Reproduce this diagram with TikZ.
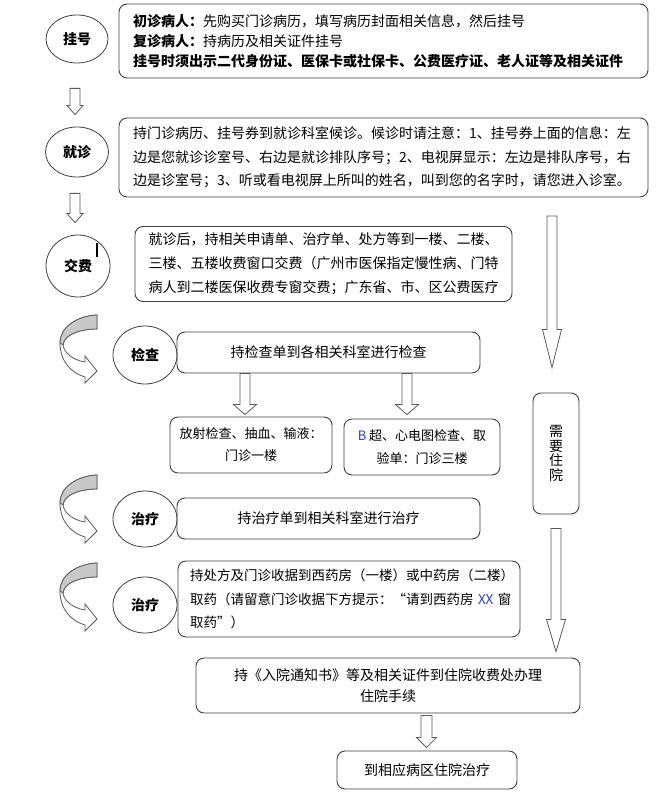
\documentclass[tikz,border=0pt]{standalone}
\usepackage{fontspec}
\setmainfont{Noto Sans CJK SC}
\usepackage{tikz}
\usetikzlibrary{calc}
\usetikzlibrary{positioning,shapes.geometric}

\definecolor{boxgray}{RGB}{64,64,64}
\definecolor{arrowgray}{RGB}{90,90,90}
\definecolor{bandgray}{RGB}{200,200,200}
\definecolor{numblue}{RGB}{40,70,180}

\tikzset{
  stepbox/.style={draw=boxgray, rounded corners=8pt, line width=0.9pt, inner ysep=0pt,
    font=\fontsize{14}{20}\selectfont},
  oval/.style={ellipse, draw=boxgray, line width=0.8pt, inner sep=0pt,
    font=\bfseries\fontsize{14}{16}\selectfont},
  hollow/.style={draw=arrowgray, fill=white, line width=0.8pt, line join=miter},
  uturn/.pic={
    \draw[hollow] (0,0) .. controls (-20,1) and (-37,12) .. (-37,28)
      .. controls (-37,46) and (-26,58) .. (-12,62) -- (-12,68) -- (0,56) -- (-12,41) -- (-12,47)
      .. controls (-24,45) and (-33,38) .. (-34,30)
      .. controls (-33,20) and (-18,14) .. (0,14) -- cycle;
    \draw[hollow, fill=bandgray] (0,0) .. controls (-20,1) and (-37,12) .. (-37,28) -- (-34,30)
      .. controls (-33,20) and (-18,14) .. (0,14) -- cycle;
  }
}

\newcommand{\hollowdown}[5]{%
  \draw[hollow] let \p1=(#1), \p2=(#2) in
    (\x1-#3,\y1) -- (\x1-#3,\y2+#5) -- (\x1-#4,\y2+#5) -- (\x1,\y2)
    -- (\x1+#4,\y2+#5) -- (\x1+#3,\y2+#5) -- (\x1+#3,\y1) -- cycle;}

\begin{document}
\begin{tikzpicture}[x=1pt, y=-1pt]
  \fill[white] (0,0) rectangle (668,794);
  \useasboundingbox (0,0) rectangle (668,794);

  \node[oval, minimum width=62pt, minimum height=48pt] (gua) at (77,39) {挂号};
  \node[oval, minimum width=63pt, minimum height=50pt] (jiu) at (77,152) {就诊};
  \node[oval, minimum width=64pt, minimum height=62pt] (jiao) at (78,266) {交费};
  \node[oval, minimum width=64pt, minimum height=58pt] (jiancha) at (145,355) {检查};
  \node[oval, minimum width=64pt, minimum height=56pt] (zhi) at (145,519) {治疗};
  \node[oval, minimum width=64pt, minimum height=56pt] (qu) at (145,605) {治疗};
  \draw[line width=1.5pt] (97,243) -- (97,257);

  \node[stepbox, inner xsep=14pt, text width=501pt, minimum height=74pt, align=left] (guabox) at (383.5,41)
    {{\bfseries 初诊病人：}先购买门诊病历，填写病历封面相关信息，然后挂号\\
     {\bfseries 复诊病人：}持病历及相关证件挂号\\
     {\bfseries 挂号时须出示二代身份证、医保卡或社保卡、公费医疗证、老人证等及相关证件}};
  \node[stepbox, inner xsep=14pt, text width=501pt, minimum height=79pt, align=left,
    font=\fontsize{14}{23.5}\selectfont] (jiubox) at (383.5,157.5)
    {持门诊病历、挂号券到就诊科室候诊。候诊时请注意：1、挂号券上面的信息：左\\
     边是您就诊诊室号、右边是就诊排队序号；2、电视屏显示：左边是排队序号，右\\
     边是诊室号；3、听或看电视屏上所叫的姓名，叫到您的名字时，请您进入诊室。};
  \node[stepbox, inner xsep=13.5pt, text width=350pt, minimum height=75pt, align=left,
    font=\fontsize{14}{24}\selectfont] (jiaobox) at (323.5,264)
    {就诊后，持相关申请单、治疗单、处方等到一楼、二楼、\\
     三楼、五楼收费窗口交费（广州市医保指定慢性病、门特\\
     病人到二楼医保收费专窗交费；广东省、市、区公费医疗};

  \node[stepbox, minimum width=303pt, minimum height=41pt] (chabox) at (328.5,352.5) {持检查单到各相关科室进行检查};
  \node[stepbox, minimum width=162pt, minimum height=56pt, align=center,
    font=\fontsize{13}{22}\selectfont] (fangshe) at (251,445) {放射检查、抽血、输液：\\门诊一楼};
  \node[stepbox, minimum width=156pt, minimum height=56pt, align=center,
    font=\fontsize{13}{23}\selectfont] (bchao) at (422,447) {\textcolor{numblue}{B}~超、心电图检查、取\\验单：门诊三楼};
  \node[stepbox, minimum width=46pt, minimum height=121pt, align=center,
    font=\fontsize{14}{14.5}\selectfont] (zhuyuan) at (556,453.5) {需\\要\\住\\院};
  \node[stepbox, minimum width=303pt, minimum height=41pt] (zhibox) at (328.5,518.5) {持治疗单到相关科室进行治疗};
  \node[stepbox, inner xsep=12pt, text width=318pt, minimum height=76pt, align=left,
    font=\fontsize{13.5}{23.5}\selectfont] (yaobox) at (349,599)
    {持处方及门诊收据到西药房（一楼）或中药房（二楼）\\
     取药（请留意门诊收据下方提示：“请到西药房~\textcolor{numblue}{XX}~窗\\
     取药”）};
  \node[stepbox, minimum width=384pt, minimum height=55pt, align=center,
    font=\fontsize{14}{21}\selectfont] (ruyuan) at (388,685.5)
    {持《入院通知书》等及相关证件到住院收费处办理\\住院手续};
  \node[stepbox, minimum width=180pt, minimum height=38pt] (bingqu) at (427,770) {到相应病区住院治疗};

  \pic at (97,315) {uturn};
  \pic at (97,475) {uturn};
  \pic at (97,563) {uturn};

  \coordinate (rtop) at (552,216);
  \hollowdown{$(gua.south)+(-2,25)$}{$(jiu.north)+(0,-12)$}{5pt}{8pt}{9pt}
  \hollowdown{$(jiu.south)+(-2,16)$}{$(jiao.north)+(0,-12)$}{5pt}{8pt}{9pt}
  \hollowdown{$(chabox.south)+(-83.5,0)$}{$(fangshe.north)+(0,-2)$}{5pt}{11.5pt}{10pt}
  \hollowdown{$(chabox.south)+(78.5,0)$}{$(bchao.north)+(0,-4)$}{5pt}{11.5pt}{10pt}
  \hollowdown{rtop}{$(zhuyuan.north)+(0,-25)$}{5pt}{9.5pt}{38pt}
  \hollowdown{$(zhuyuan.south)+(0,14)$}{$(ruyuan.north)+(0,-6)$}{5pt}{9.5pt}{32pt}
  \hollowdown{$(ruyuan.south)+(38.5,2)$}{$(bingqu.north)+(0,-3)$}{5.5pt}{10pt}{10pt}
\end{tikzpicture}
\end{document}
